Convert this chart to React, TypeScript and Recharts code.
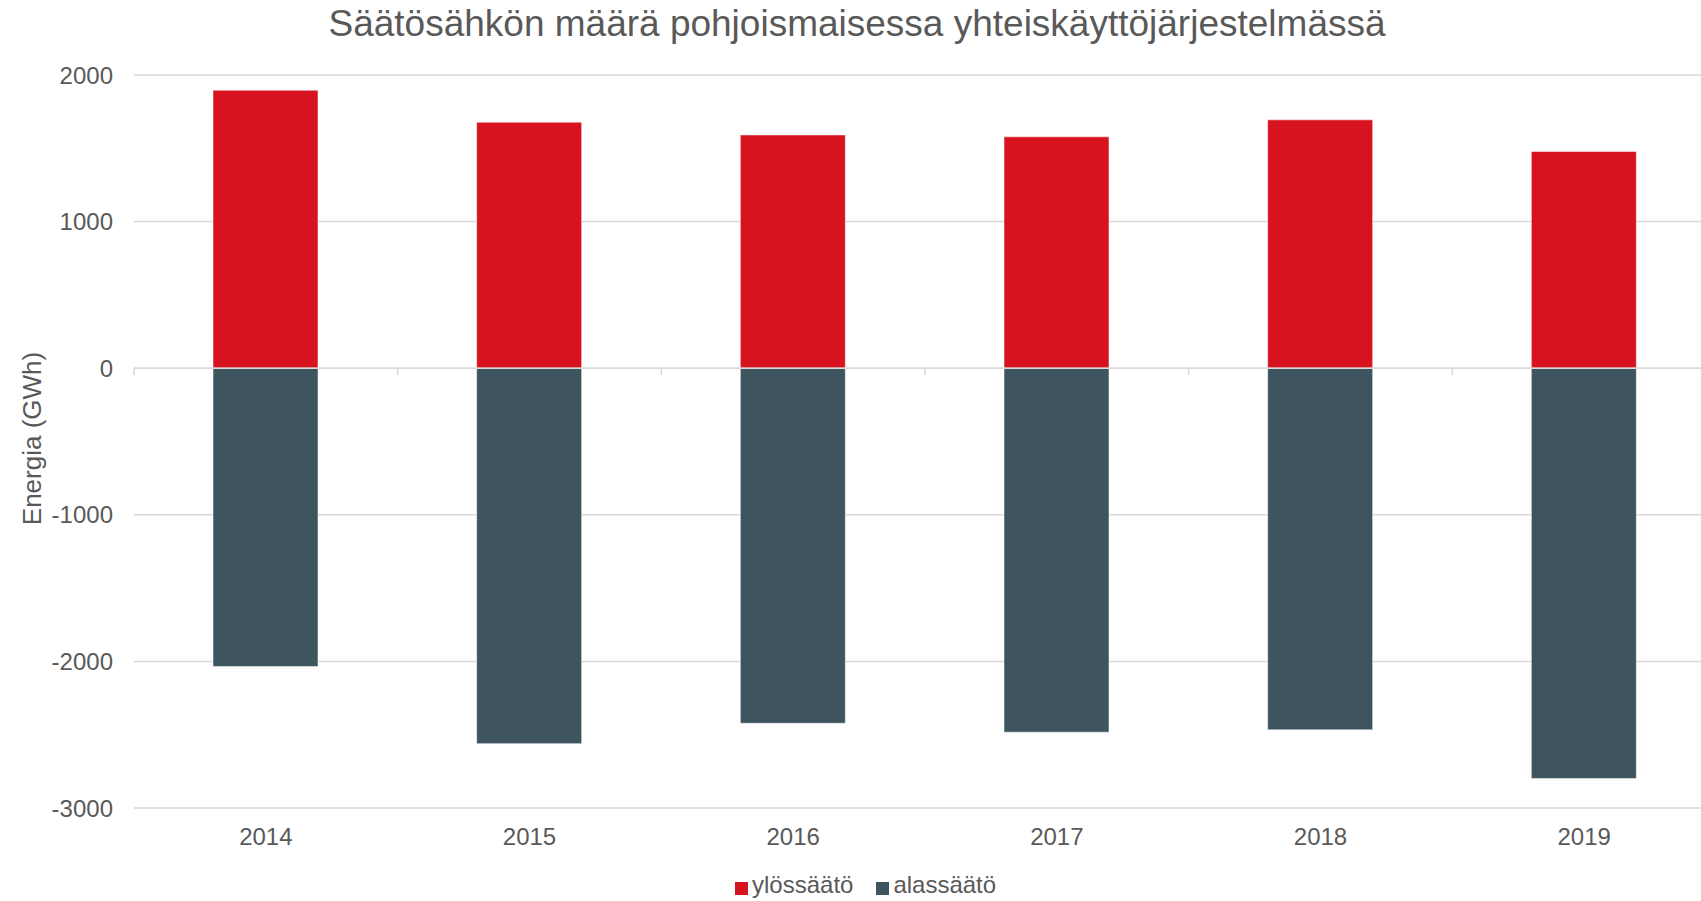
import React from "react";
import {
  BarChart,
  Bar,
  XAxis,
  YAxis,
  CartesianGrid,
  ReferenceLine,
  Legend,
} from "recharts";

const years = ["2014", "2015", "2016", "2017", "2018", "2019"];
const ylossaato = [1896, 1678, 1591, 1578, 1694, 1478];
const alassaato = [-2035, -2561, -2422, -2483, -2467, -2799];
const yTicks = [-3000, -2000, -1000, 0, 1000, 2000];

const RED = "#d7131f";
const SLATE = "#3e5560";
const TEXT = "#595959";
const GRID = "#d9d9d9";
const FONT = '"Liberation Sans", Arial, sans-serif';

const data = years.map((year, i) => ({
  year,
  ylossaato: ylossaato[i],
  alassaato: alassaato[i],
}));

// zero line drawn like Excel's category axis, with ticks between categories
function ZeroAxis(props: any) {
  const { x1, x2, y1 } = props;
  const n = years.length;
  const step = (x2 - x1) / n;
  const ticks = [];
  for (let i = 0; i <= n; i++) {
    const x = x1 + i * step;
    ticks.push(<line key={i} x1={x} x2={x} y1={y1} y2={y1 + 7} stroke={GRID} strokeWidth={1.5} />);
  }
  return (
    <g>
      <line x1={x1} x2={x2} y1={y1} y2={y1} stroke={GRID} strokeWidth={1.5} />
      {ticks}
    </g>
  );
}

function YLabel({ viewBox }: any) {
  const cx = 41;
  const cy = (viewBox?.y ?? 0) + (viewBox?.height ?? 0) / 2 - 3;
  return (
    <text
      x={cx}
      y={cy}
      transform={`rotate(-90, ${cx}, ${cy})`}
      textAnchor="middle"
      fontSize={26}
      fill={TEXT}
      fontFamily={FONT}
    >
      Energia (GWh)
    </text>
  );
}

function LegendContent() {
  const items = [
    { label: "ylössäätö", color: RED },
    { label: "alassäätö", color: SLATE },
  ];
  return (
    <div style={{ display: "flex", alignItems: "flex-start", gap: "23px", fontFamily: FONT }}>
      {items.map((it) => (
        <div key={it.label} style={{ display: "flex", alignItems: "flex-start", gap: "4px" }}>
          <div style={{ width: "13px", height: "13px", background: it.color, marginTop: "9px" }} />
          <span style={{ fontSize: "24px", lineHeight: "24px", color: TEXT }}>{it.label}</span>
        </div>
      ))}
    </div>
  );
}

export default function App() {
  return (
    <div
      style={{
        position: "absolute",
        left: 0,
        top: 0,
        width: 1701,
        height: 901,
        overflow: "hidden",
        background: "#fff",
        fontFamily: FONT,
      }}
    >
      <div
        style={{
          position: "absolute",
          left: 0,
          top: 5,
          width: 1714,
          textAlign: "center",
          fontSize: "37px",
          lineHeight: "37px",
          color: TEXT,
          whiteSpace: "nowrap",
        }}
      >
        Säätösähkön määrä pohjoismaisessa yhteiskäyttöjärjestelmässä
      </div>
      <BarChart
        width={1716}
        height={901}
        data={data}
        stackOffset="sign"
        margin={{ top: 75, right: 0, bottom: 63, left: 0 }}
      >
        <CartesianGrid vertical={false} stroke={GRID} strokeWidth={1.5} />
        <XAxis
          dataKey="year"
          axisLine={false}
          tickLine={false}
          tickSize={6}
          tickMargin={14}
          height={30}
          tick={{ fontSize: 24, fill: TEXT, fontFamily: FONT }}
        />
        <YAxis
          type="number"
          domain={[-3000, 2000]}
          ticks={yTicks}
          axisLine={false}
          tickLine={false}
          tickSize={6}
          tickMargin={15}
          width={134}
          tick={{ fontSize: 24, fill: TEXT, fontFamily: FONT }}
          label={<YLabel />}
        />
        <ReferenceLine y={0} shape={<ZeroAxis />} />
        <Legend
          verticalAlign="middle"
          align="center"
          content={<LegendContent />}
          wrapperStyle={{ top: 873, left: 735, width: "auto" }}
        />
        <Bar
          dataKey="ylossaato"
          name="ylössäätö"
          stackId="a"
          fill={RED}
          stroke="#ffffff"
          strokeOpacity={0.5}
          strokeWidth={1}
          barSize={105}
          isAnimationActive={false}
        />
        <Bar
          dataKey="alassaato"
          name="alassäätö"
          stackId="a"
          fill={SLATE}
          stroke="#ffffff"
          strokeOpacity={0.5}
          strokeWidth={1}
          barSize={105}
          isAnimationActive={false}
        />
      </BarChart>
    </div>
  );
}
